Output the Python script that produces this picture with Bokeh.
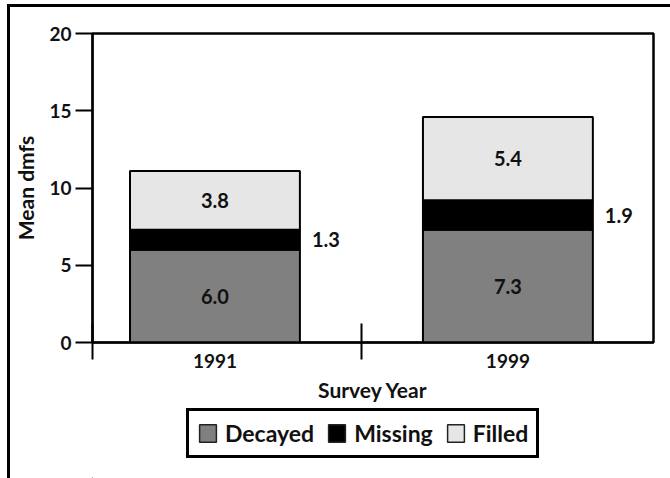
from bokeh.plotting import figure
from bokeh.layouts import column
from bokeh.models import ColumnDataSource, Range1d, FixedTicker
from bokeh.embed import file_html
from bokeh.resources import INLINE
from bokeh.core.properties import value

years = ["1991", "1999"]
decayed = [6.0, 7.3]
missing = [1.3, 1.9]
filled = [3.8, 5.4]
y_ticks = [0, 5, 10, 15, 20]
series = ["Decayed", "Missing", "Filled"]
colors = ["#808080", "#000000", "#e6e6e6"]

FONT = "Lato"
FS = "20px"

x = [i + 0.5 for i in range(len(years))]
x_start, x_end = 0.082, 1.997
bar_w = 0.58

src = ColumnDataSource(dict(x=x, Decayed=decayed, Missing=missing, Filled=filled))

fig = figure(width=660, height=400, output_backend="svg", toolbar_location=None,
             x_range=Range1d(x_start, x_end), y_range=Range1d(0, 20),
             min_border_left=80, min_border_right=17, min_border_top=26, min_border_bottom=65)
fig.xgrid.visible = False
fig.ygrid.visible = False
fig.outline_line_color = "black"
fig.outline_line_width = 2.5
fig.background_fill_color = "white"
fig.border_fill_color = "white"

rs = fig.vbar_stack(series, x="x", width=bar_w, color=colors, source=src,
                    line_color="black", line_width=2)

# value labels
dec_mid = [d / 2 for d in decayed]
mis_mid = [d + m / 2 for d, m in zip(decayed, missing)]
fil_mid = [d + m + f / 2 for d, m, f in zip(decayed, missing, filled)]
common = dict(text_font=value(FONT), text_font_style="bold", text_font_size=FS,
              text_color="#111111", text_baseline="middle")
fig.text(x=x, y=dec_mid, text=[f"{v:.1f}" for v in decayed], text_align="center", **common)
fig.text(x=x, y=fil_mid, text=[f"{v:.1f}" for v in filled], text_align="center", **common)
fig.text(x=[xi + bar_w / 2 for xi in x], y=mis_mid, text=[f"{v:.1f}" for v in missing],
         text_align="left", x_offset=12, **common)

# axes
xa = fig.xaxis[0]
xa.ticker = FixedTicker(ticks=x, minor_ticks=[x_start] + [i for i in range(1, len(years))])
xa.major_label_overrides = {xi: y for xi, y in zip(x, years)}
xa.major_tick_line_color = None
xa.major_tick_out = 0
xa.major_tick_in = 0
xa.minor_tick_in = 19
xa.minor_tick_out = 17
xa.minor_tick_line_width = 2
xa.minor_tick_line_color = "black"
xa.axis_line_width = 2
xa.major_label_standoff = -6
xa.axis_label = "Survey Year"
xa.axis_label_standoff = 6

ya = fig.yaxis[0]
ya.ticker = FixedTicker(ticks=y_ticks)
ya.major_tick_in = 0
ya.major_tick_out = 17
ya.major_tick_line_width = 2
ya.minor_tick_line_color = None
ya.axis_line_width = 2
ya.major_label_standoff = 4
ya.axis_label = "Mean dmfs"
ya.axis_label_standoff = 8

for ax in (xa, ya):
    ax.major_label_text_font = FONT
    ax.major_label_text_font_style = "bold"
    ax.major_label_text_font_size = "19px"
    ax.major_label_text_color = "#111111"
    ax.axis_label_text_font = FONT
    ax.axis_label_text_font_style = "bold"
    ax.axis_label_text_font_size = "21px"
    ax.axis_label_text_color = "#111111"
    ax.axis_line_color = "black"

# legend strip (second figure, same width, no axes); its view range excludes the data
leg = figure(width=660, height=71, output_backend="svg", toolbar_location=None,
             x_range=Range1d(100, 200), y_range=Range1d(100, 200),
             x_axis_type=None, y_axis_type=None, min_border=0)
leg.xgrid.visible = False
leg.ygrid.visible = False
leg.outline_line_color = None
leg.background_fill_color = "white"
leg.border_fill_color = "white"
for s, c in zip(series, colors):
    leg.vbar(x="x", top=s, width=bar_w, source=src, fill_color=c,
             line_color="#222222", line_width=1.5, legend_label=s)
lg = leg.legend[0]
lg.orientation = "horizontal"
lg.location = (94, 20)
lg.border_line_color = "black"
lg.border_line_width = 3
lg.border_line_alpha = 1
lg.glyph_width = 21
lg.glyph_height = 22
lg.padding = 8
lg.spacing = 12
lg.label_standoff = 7
lg.margin = 0
lg.label_text_font = FONT
lg.label_text_font_style = "bold"
lg.label_text_font_size = "23px"
lg.label_text_color = "#111111"
lg.background_fill_alpha = 1

p = column(fig, leg, spacing=0,
           styles={"border-left": "3px solid black", "border-top": "3px solid black",
                   "margin-left": "7px", "margin-top": "4px"})

open("out.html", "w").write(file_html(p, INLINE))
